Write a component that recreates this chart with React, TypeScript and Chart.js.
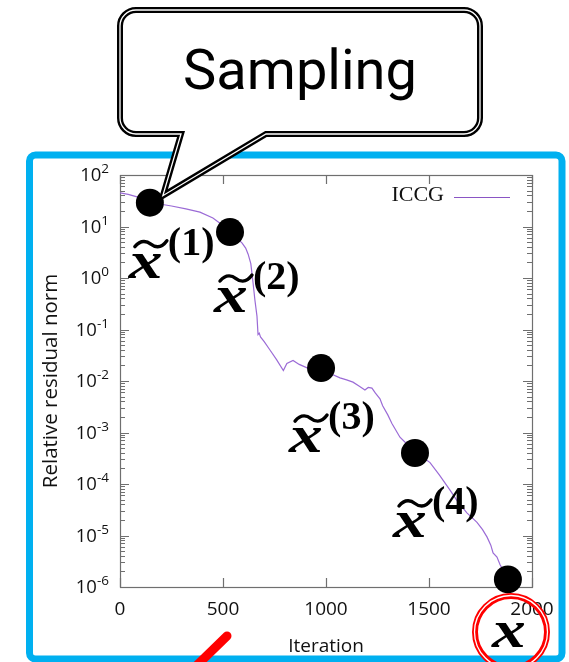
import React, { useEffect, useRef } from "react";
import { Chart, registerables } from "chart.js";

Chart.register(...registerables);

// ---- data ----
const iterations = [0, 40, 100, 145, 200, 250, 320, 388, 451, 500, 534, 570, 592, 610, 622, 635, 646, 655, 665, 670, 676, 682, 700, 728, 760, 793, 810, 840, 870, 908, 950, 976, 1020, 1068, 1100, 1131, 1160, 1189, 1205, 1223, 1240, 1262, 1275, 1300, 1320, 1359, 1400, 1432, 1470, 1505, 1550, 1602, 1640, 1684, 1710, 1733, 1760, 1782, 1800, 1811, 1830, 1845, 1865, 1883];
const residuals = [45, 42, 36, 31, 27, 25, 22, 19, 14.6, 10.5, 7.8, 5.8, 4.8, 3.8, 2.9, 1.9, 0.8, 0.37, 0.18, 0.08, 0.085, 0.072, 0.058, 0.04, 0.026, 0.016, 0.022, 0.025, 0.021, 0.018, 0.019, 0.0178, 0.014, 0.0115, 0.0105, 0.0095, 0.008, 0.0067, 0.0075, 0.0073, 0.0058, 0.0045, 0.0033, 0.0022, 0.0015, 0.00081, 0.00056, 0.0004, 0.00033, 0.00026, 0.00015, 0.000076, 0.000045, 0.0000275, 0.000022, 0.000018, 0.000013, 0.0000093, 0.0000065, 0.0000046, 0.0000038, 0.0000027, 0.000002, 0.0000014];
const sampleIters = [145, 534, 976, 1432, 1883];
const sampleResiduals = [29, 7.8, 0.0178, 0.0004, 0.0000014];
const sampleNames = ["(1)", "(2)", "(3)", "(4)"];
const xTicks = [0, 500, 1000, 1500, 2000];
const yExponents = [2, 1, 0, -1, -2, -3, -4, -5, -6];
const seriesName = "ICCG";
const xTitle = "Iteration";
const yTitle = "Relative residual norm";
const calloutText = "Sampling";
const solutionText = "x";

// ---- layout (annotation offsets from sample dots, in px) ----
const labelOffsets = [
  [-17, 75],
  [-12, 80],
  [-28, 84],
  [-18, 84],
];

const LINE_COLOR = "#9b6bd6";
const AXIS_COLOR = "#6f6f6f";

function drawAxes(chart: any) {
  const ctx = chart.ctx as CanvasRenderingContext2D;
  const { left, right, top, bottom } = chart.chartArea;
  const xs = chart.scales.x;
  const ys = chart.scales.y;
  ctx.save();
  ctx.strokeStyle = AXIS_COLOR;
  ctx.lineWidth = 1.2;
  ctx.strokeRect(left + 0.5, top + 0.5, right - left, bottom - top);
  ctx.beginPath();
  for (const t of xTicks) {
    const x = Math.round(xs.getPixelForValue(t)) + 0.5;
    ctx.moveTo(x, bottom);
    ctx.lineTo(x, bottom - 9);
    ctx.moveTo(x, top);
    ctx.lineTo(x, top + 9);
  }
  for (const e of yExponents) {
    const y = Math.round(ys.getPixelForValue(Math.pow(10, e))) + 0.5;
    ctx.moveTo(left, y);
    ctx.lineTo(left + 9, y);
    ctx.moveTo(right, y);
    ctx.lineTo(right - 9, y);
    if (e > -6) {
      for (let m = 2; m <= 9; m++) {
        const ym = Math.round(ys.getPixelForValue(m * Math.pow(10, e - 1))) + 0.5;
        ctx.moveTo(left, ym);
        ctx.lineTo(left + 5, ym);
        ctx.moveTo(right, ym);
        ctx.lineTo(right - 5, ym);
      }
    }
  }
  ctx.stroke();

  // tick labels
  ctx.fillStyle = "#111";
  ctx.textAlign = "center";
  ctx.textBaseline = "alphabetic";
  ctx.font = "19px 'Open Sans'";
  for (const t of xTicks) {
    ctx.fillText(String(t), xs.getPixelForValue(t), bottom + 28);
  }
  ctx.textAlign = "left";
  for (const e of yExponents) {
    const y = ys.getPixelForValue(Math.pow(10, e));
    const base = "10";
    const exp = e < 0 ? "-" + Math.abs(e) : String(e);
    ctx.font = "18.5px 'Open Sans'";
    const wb = ctx.measureText(base).width;
    ctx.font = "13.5px 'Open Sans'";
    const we = ctx.measureText(exp).width;
    const endX = left - 11;
    const x0 = endX - wb - we;
    ctx.font = "18.5px 'Open Sans'";
    ctx.fillText(base, x0, y + 6);
    ctx.font = "13.5px 'Open Sans'";
    ctx.fillText(exp, x0 + wb, y - 2);
  }

  // axis titles
  ctx.font = "19px 'Open Sans'";
  ctx.textAlign = "center";
  ctx.fillText(xTitle, (left + right) / 2, bottom + 65);
  ctx.save();
  ctx.translate(57, (top + bottom) / 2);
  ctx.rotate(-Math.PI / 2);
  ctx.font = "20.5px 'Open Sans'";
  ctx.fillText(yTitle, 0, 0);
  ctx.restore();

  // legend
  ctx.font = "22px 'Liberation Serif'";
  ctx.textAlign = "right";
  ctx.fillText(seriesName, right - 88, top + 26);
  ctx.strokeStyle = "#8a55c4";
  ctx.lineWidth = 1.2;
  ctx.beginPath();
  ctx.moveTo(right - 78, top + 22.5);
  ctx.lineTo(right - 22, top + 22.5);
  ctx.stroke();
  ctx.restore();
}

function drawTilde(ctx: CanvasRenderingContext2D, x: number, y: number, w: number) {
  ctx.save();
  ctx.lineWidth = 3.4;
  ctx.lineCap = "round";
  ctx.strokeStyle = "#000";
  ctx.beginPath();
  ctx.moveTo(x, y + 3);
  ctx.bezierCurveTo(x + w * 0.2, y - 5, x + w * 0.4, y - 2, x + w * 0.5, y + 0.5);
  ctx.bezierCurveTo(x + w * 0.6, y + 3, x + w * 0.8, y + 6, x + w, y - 3);
  ctx.stroke();
  ctx.restore();
}

function drawMathX(ctx: CanvasRenderingContext2D, x: number, y: number, align: "left" | "center") {
  ctx.save();
  ctx.translate(x, y);
  ctx.scale(1.3, 1);
  ctx.textAlign = align;
  ctx.font = "bold italic 52px 'Liberation Serif'";
  ctx.fillText(solutionText, 0, 0);
  ctx.restore();
}

function drawOverlay(chart: any) {
  const ctx = chart.ctx as CanvasRenderingContext2D;
  const xs = chart.scales.x;
  const ys = chart.scales.y;
  ctx.save();

  // blue frame
  ctx.strokeStyle = "#00b0f0";
  ctx.lineWidth = 7;
  ctx.beginPath();
  (ctx as any).roundRect(29.5, 155, 532.5, 504, 6);
  ctx.stroke();

  // sample labels x~(n)
  for (let i = 0; i < sampleNames.length; i++) {
    const px = xs.getPixelForValue(sampleIters[i]) + labelOffsets[i][0];
    const py = ys.getPixelForValue(sampleResiduals[i]) + labelOffsets[i][1];
    ctx.fillStyle = "#000";
    ctx.textBaseline = "alphabetic";
    drawMathX(ctx, px - 4, py, "left");
    drawTilde(ctx, px + 2, py - 34, 32);
    ctx.textAlign = "left";
    ctx.font = "bold 40px 'Liberation Serif'";
    ctx.fillText(sampleNames[i], px + 35, py - 23);
  }

  // red arrow stroke
  ctx.strokeStyle = "#ff0000";
  ctx.lineCap = "round";
  ctx.lineWidth = 9;
  ctx.beginPath();
  ctx.moveTo(190, 672);
  ctx.lineTo(227, 636);
  ctx.stroke();

  // red double circle around final solution
  const cx = 511, cy = 632, r = 36;
  ctx.lineWidth = 6;
  ctx.beginPath();
  ctx.arc(cx, cy, r, 0, Math.PI * 2);
  ctx.stroke();
  ctx.strokeStyle = "#fff";
  ctx.lineWidth = 1.3;
  ctx.beginPath();
  ctx.arc(cx, cy, r + 0.5, 0, Math.PI * 2);
  ctx.stroke();
  ctx.fillStyle = "#000";
  drawMathX(ctx, cx - 2, 647, "center");

  // callout
  const L = 120, T = 10, R = 480, B = 134, rad = 16;
  const tipX = xs.getPixelForValue(sampleIters[0]) + 13;
  const tipY = ys.getPixelForValue(sampleResiduals[0]) - 7;
  ctx.beginPath();
  ctx.moveTo(L + rad, T);
  ctx.lineTo(R - rad, T);
  ctx.arcTo(R, T, R, T + rad, rad);
  ctx.lineTo(R, B - rad);
  ctx.arcTo(R, B, R - rad, B, rad);
  ctx.lineTo(266, B);
  ctx.lineTo(tipX, tipY);
  ctx.lineTo(181, B);
  ctx.lineTo(L + rad, B);
  ctx.arcTo(L, B, L, B - rad, rad);
  ctx.lineTo(L, T + rad);
  ctx.arcTo(L, T, L + rad, T, rad);
  ctx.closePath();
  ctx.fillStyle = "#fff";
  ctx.fill();
  ctx.lineJoin = "miter";
  ctx.strokeStyle = "#000";
  ctx.lineWidth = 6;
  ctx.stroke();
  ctx.strokeStyle = "#fff";
  ctx.lineWidth = 1.3;
  ctx.stroke();

  ctx.fillStyle = "#000";
  ctx.font = "56px Roboto";
  ctx.textAlign = "center";
  ctx.fillText(calloutText, 300, 89);
  ctx.restore();
}

const customPlugin = {
  id: "customDraw",
  beforeDatasetsDraw(chart: any) {
    drawAxes(chart);
  },
  afterDraw(chart: any) {
    drawOverlay(chart);
  },
};

export default function App() {
  const ref = useRef<HTMLCanvasElement | null>(null);
  useEffect(() => {
    if (!ref.current) return;
    const chart = new Chart(ref.current, {
      type: "scatter",
      data: {
        datasets: [
          {
            label: "samples",
            data: sampleIters.map((x, i) => ({ x, y: sampleResiduals[i] })),
            pointRadius: 14,
            pointBackgroundColor: "#000",
            pointBorderWidth: 0,
            showLine: false,
            order: 0,
            clip: false,
          } as any,
          {
            label: seriesName,
            data: iterations.map((x, i) => ({ x, y: residuals[i] })),
            showLine: true,
            pointRadius: 0,
            borderColor: LINE_COLOR,
            borderWidth: 1.2,
            tension: 0,
            order: 1,
          } as any,
        ],
      },
      options: {
        responsive: false,
        animation: false,
        devicePixelRatio: 1,
        layout: { padding: { left: 120, top: 175, right: 37, bottom: 75 } },
        scales: {
          x: { type: "linear", min: 0, max: 2000, display: false },
          y: { type: "logarithmic", min: 1e-6, max: 100, display: false },
        },
        plugins: { legend: { display: false }, tooltip: { enabled: false } },
      },
      plugins: [customPlugin],
    });
    return () => chart.destroy();
  }, []);
  return (
    <canvas
      ref={ref}
      width={569}
      height={662}
      style={{ position: "fixed", left: 0, top: 0, display: "block", background: "#fff" }}
    />
  );
}
